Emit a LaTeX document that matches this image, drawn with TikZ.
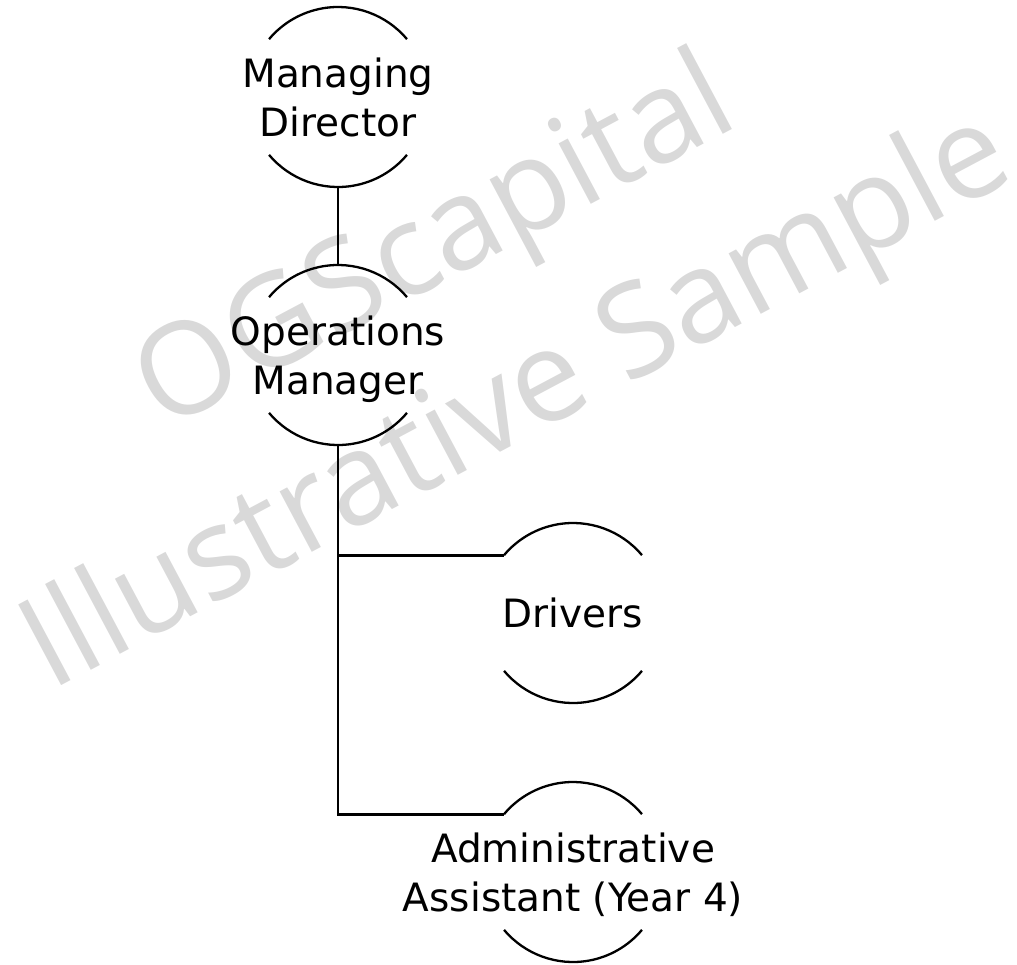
\documentclass[tikz,border=0pt]{standalone}
\usepackage{fontspec}
\setmainfont{DejaVu Sans}
\newfontfamily\markfont{Open Sans}
\usetikzlibrary{calc}
\def\postrad{90pt}
\tikzset{
	every node/.style={
		font=\fontsize{39}{49}\selectfont
	},
	post/.style={
		shape=rectangle,
		minimum width=180pt,
		minimum height=180pt,
		inner sep=0pt,
		outer sep=0pt,
		text depth=0pt,
		align=center
	},
	postarc/.style={line width=2.3pt},
	link/.style={line width=2.7pt},
	watermark/.style={
		font=\markfont\fontsize{128}{128}\selectfont,
		text=gray!30,
		inner sep=0pt,
		rotate=28
	}
}
\begin{document}
\begin{tikzpicture}[x=1pt,y=1pt]
	\useasboundingbox (0,0) rectangle (1017,-964);
	% watermark behind the chart
	\node[watermark, anchor=base east] (wm1) at (742,-124) {OGScapital};
	\node[watermark, anchor=base west] (wm2) at (50,-692) {Illustrative Sample};

	\node[post] (md) at (338,-97) {Managing\\Director};
	\node[post, below of=md, node distance=258pt] (om) {Operations\\Manager};
	\node[post] (dr) at (573,-613) {Drivers};
	\node[post, below of=dr, node distance=259pt] (aa) {Administrative\\Assistant (Year 4)};

	\foreach \n in {md,om,dr,aa}{
		\draw[postarc] ([shift={(40:\postrad)}]\n.center) arc[start angle=40, end angle=140, radius=\postrad];
		\draw[postarc] ([shift={(220:\postrad)}]\n.center) arc[start angle=220, end angle=320, radius=\postrad];
	}

	\draw[link] (md.south) -- (om.north);
	\draw[link] (om.south) |- ([shift={(140:\postrad)}]dr.center);
	\draw[link] (om.south) |- ([shift={(140:\postrad)}]aa.center);
\end{tikzpicture}
\end{document}
